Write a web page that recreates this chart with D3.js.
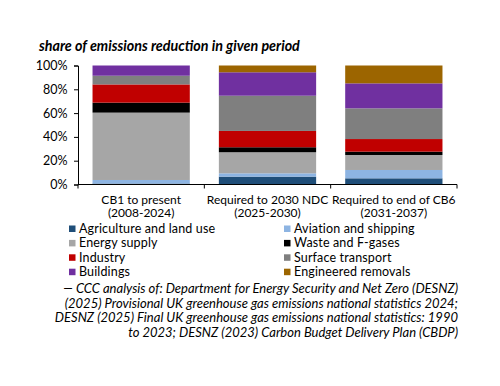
<!DOCTYPE html>
<html>
<head>
<meta charset="utf-8">
<script src="https://cdn.jsdelivr.net/npm/d3@7"></script>
<style>
body { margin: 0; background: #fff; }
svg text { font-family: Lato, "Open Sans", sans-serif; fill: #000; }
</style>
</head>
<body>
<script>
var categories = ["CB1 to present|(2008-2024)", "Required to 2030 NDC|(2025-2030)", "Required to end of CB6|(2031-2037)"];
var sectors = ["Agriculture and land use", "Aviation and shipping", "Energy supply", "Waste and F-gases",
	"Industry", "Surface transport", "Buildings", "Engineered removals"];
var colors = ["#1f4e79", "#8db4e2", "#a6a6a6", "#000000", "#c00000", "#7f7f7f", "#7030a0", "#9c6500"];
// share (%) per sector, one entry per category
var agriculture = [0.8, 6.6, 5.2];
var aviation = [3.0, 2.8, 7.0];
var energy = [56.6, 17.7, 12.6];
var waste = [8.4, 4.2, 2.8];
var industry = [15.3, 13.7, 10.6];
var surface = [7.3, 29.6, 25.8];
var buildings = [8.6, 19.7, 21.0];
var removals = [0, 5.7, 15.0];
var yTicks = [0, 20, 40, 60, 80, 100];
var title = "share of emissions reduction in given period";
var source = [
	"\u2014 CCC analysis of: Department for Energy Security and Net Zero (DESNZ)",
	"(2025) Provisional UK greenhouse gas emissions national statistics 2024;",
	"DESNZ (2025) Final UK greenhouse gas emissions national statistics: 1990",
	"to 2023; DESNZ (2023) Carbon Budget Delivery Plan (CBDP)"
];

var series = [agriculture, aviation, energy, waste, industry, surface, buildings, removals];
var table = categories.map(function(c, i){
	var row = {cat: c};
	sectors.forEach(function(s, j){ row[s] = series[j][i]; });
	return row;
});

var width = 500, height = 386;
var svg = d3.select("body").append("svg").attr("width", width).attr("height", height);

var x = d3.scaleBand().domain(categories).range([78, 457]).paddingInner(0.23).paddingOuter(0.115);
var y = d3.scaleLinear().domain([0, 100]).range([184.5, 65.5]);

var stack = d3.stack().keys(sectors)(table);

svg.append("g").selectAll("g")
	.data(stack)
	.enter().append("g")
	.attr("fill", function(d, i){ return colors[i]; })
	.selectAll("rect")
	.data(function(d){ return d; })
	.enter().append("rect")
	.attr("x", function(d){ return x(d.data.cat); })
	.attr("width", x.bandwidth())
	.attr("y", function(d){ return y(d[1]); })
	.attr("height", function(d){ return y(d[0]) - y(d[1]); });

// y axis
var yAxis = svg.append("g")
	.attr("transform", "translate(78,0)")
	.call(d3.axisLeft(y).tickValues(yTicks).tickSize(4).tickFormat(function(d){ return d + "%"; }));
yAxis.selectAll("text").attr("font-size", "12.5px").attr("x", -10.5).style("font-family", "Lato, sans-serif");
yAxis.selectAll("line, path").attr("stroke", "#000");

// x axis: line with boundary ticks
var xg = svg.append("g").attr("transform", "translate(0," + y(0) + ")");
xg.append("line").attr("x1", 78).attr("x2", 457).attr("stroke", "#000");
var bounds = categories.map(function(c){ return x(c) - x.step() * x.paddingInner() / 2; });
bounds.push(457);
bounds[0] = 78;
xg.selectAll(".bt").data(bounds).enter().append("line")
	.attr("x1", function(d){ return d; }).attr("x2", function(d){ return d; })
	.attr("y1", 0).attr("y2", 4).attr("stroke", "#000");

categories.forEach(function(c){
	var t = svg.append("text")
		.attr("x", x(c) + x.bandwidth() / 2)
		.attr("y", 203.5)
		.attr("text-anchor", "middle")
		.attr("font-size", "12px");
	c.split("|").forEach(function(line, i){
		t.append("tspan").attr("x", x(c) + x.bandwidth() / 2).attr("dy", i ? 13.5 : 0).text(line);
	});
});

// title
svg.append("text").attr("x", 39).attr("y", 51)
	.attr("font-size", "14.3px").attr("font-style", "italic").attr("font-weight", "bold")
	.text(title);

// legend
var leg = svg.append("g").selectAll("g")
	.data(sectors)
	.enter().append("g")
	.attr("transform", function(d, i){
		return "translate(" + (i % 2 ? 284 : 69) + "," + (228.5 + Math.floor(i / 2) * 14.4) + ")";
	});
leg.append("rect").attr("x", 0).attr("y", -3).attr("width", 6.5).attr("height", 6.5)
	.attr("fill", function(d, i){ return colors[i]; });
leg.append("text").attr("x", 10).attr("y", 4.5).attr("font-size", "12.5px").attr("letter-spacing", "0.15px")
	.text(function(d){ return d; });

// source note
svg.append("g").selectAll("text")
	.data(source)
	.enter().append("text")
	.attr("x", 458)
	.attr("y", function(d, i){ return 293 + i * 14.5; })
	.attr("text-anchor", "end")
	.attr("font-size", "13px")
	.attr("font-style", "italic")
	.text(function(d){ return d; });
</script>
</body>
</html>
